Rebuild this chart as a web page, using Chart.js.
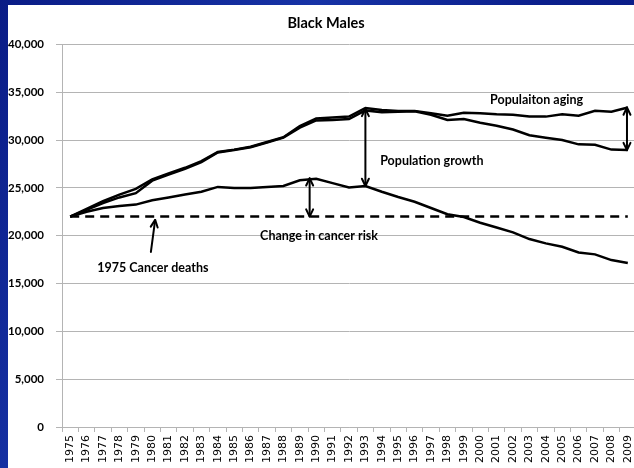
<!DOCTYPE html>
<html>
<head>
<meta charset="utf-8">
<script src="https://cdn.jsdelivr.net/npm/chart.js@4/dist/chart.umd.min.js"></script>
<style>
  html, body { margin: 0; padding: 0; }
  body {
    width: 634px; height: 468px; overflow: hidden; position: relative;
    background: linear-gradient(120deg, #0a1c86 0%, #1733a6 35%, #0b1f8c 60%, #0a1a80 100%);
  }
  #wrap {
    position: absolute; left: 8px; top: 5px;
    width: 626px; height: 463px; background: #fff; overflow: hidden;
  }
</style>
</head>
<body>
<div id="wrap"><canvas id="chart" width="636" height="463"></canvas></div>
<script>
const years = ['1975', '1976', '1977', '1978', '1979', '1980', '1981', '1982', '1983', '1984',
    '1985', '1986', '1987', '1988', '1989', '1990', '1991', '1992', '1993', '1994',
    '1995', '1996', '1997', '1998', '1999', '2000', '2001', '2002', '2003', '2004',
    '2005', '2006', '2007', '2008', '2009'];

// expected deaths with population growth and aging
const agingDeaths = [22000, 22800, 23600, 24300, 24900, 25900, 26500, 27100, 27800, 28750,
    29000, 29300, 29800, 30300, 31450, 32250, 32350, 32450, 33350, 33150,
    33050, 33050, 32800, 32550, 32850, 32800, 32700, 32650, 32450, 32450,
    32700, 32550, 33050, 32950, 33400];

// expected deaths with population growth only
const growthDeaths = [22000, 22700, 23400, 24000, 24450, 25750, 26400, 27000, 27700, 28700,
    28950, 29250, 29750, 30250, 31300, 32050, 32100, 32200, 33100, 32900,
    32950, 33000, 32650, 32100, 32200, 31800, 31500, 31100, 30500, 30250,
    30000, 29550, 29500, 29000, 28950];

// observed cancer deaths
const actualDeaths = [22000, 22500, 22900, 23100, 23250, 23700, 24000, 24300, 24600, 25100,
    25000, 25000, 25100, 25200, 25800, 25950, 25500, 25050, 25200, 24600,
    24050, 23550, 22900, 22250, 21950, 21350, 20850, 20350, 19650, 19200,
    18850, 18250, 18050, 17450, 17150];

const baseline1975 = years.map(() => 22000);

const yTicks = [0, 5000, 10000, 15000, 20000, 25000, 30000, 35000, 40000];

function drawArrow(ctx, x1, y1, x2, y2, both) {
    const head = 8;
    const ang = Math.atan2(y2 - y1, x2 - x1);
    ctx.beginPath();
    ctx.moveTo(x1, y1);
    ctx.lineTo(x2, y2);
    ctx.stroke();
    const tip = (x, y, a) => {
        ctx.beginPath();
        ctx.moveTo(x - head * Math.cos(a - 0.45), y - head * Math.sin(a - 0.45));
        ctx.lineTo(x, y);
        ctx.lineTo(x - head * Math.cos(a + 0.45), y - head * Math.sin(a + 0.45));
        ctx.stroke();
    };
    tip(x2, y2, ang);
    if (both) tip(x1, y1, ang + Math.PI);
}

const notes = {
    id: 'notes',
    afterDatasetsDraw(chart) {
        const ctx = chart.ctx;
        const x = chart.scales.x, y = chart.scales.y;
        ctx.save();
        ctx.strokeStyle = '#000';
        ctx.lineWidth = 2;
        ctx.lineCap = 'round';
        ctx.lineJoin = 'round';
        drawArrow(ctx, x.getPixelForValue(14.6), y.getPixelForValue(22000),
            x.getPixelForValue(14.6), y.getPixelForValue(26000), true);
        drawArrow(ctx, x.getPixelForValue(18), y.getPixelForValue(25200),
            x.getPixelForValue(18), y.getPixelForValue(33250), true);
        drawArrow(ctx, x.getPixelForValue(33.95), y.getPixelForValue(28950),
            x.getPixelForValue(33.95), y.getPixelForValue(33400), true);
        drawArrow(ctx, x.getPixelForValue(4.92), y.getPixelForValue(18300),
            x.getPixelForValue(5.18), y.getPixelForValue(21650), false);

        ctx.fillStyle = '#000';
        ctx.font = 'bold 12.5px Lato';
        ctx.textAlign = 'left';
        ctx.textBaseline = 'middle';
        ctx.fillText('Populaiton aging', x.getPixelForValue(25.6), y.getPixelForValue(34150));
        ctx.fillText('Population growth', x.getPixelForValue(18.9), y.getPixelForValue(27780));
        ctx.fillText('Change in cancer risk', x.getPixelForValue(11.58), y.getPixelForValue(19950));
        ctx.fillText('1975 Cancer deaths', x.getPixelForValue(1.65), y.getPixelForValue(16600));
        ctx.restore();
    }
};

function line(data, dash) {
    return {
        data: data,
        borderColor: '#000',
        borderWidth: 2.5,
        borderDash: dash || [],
        pointRadius: 0,
        tension: 0,
        fill: false
    };
}

new Chart(document.getElementById('chart').getContext('2d'), {
    type: 'line',
    data: {
        labels: years,
        datasets: [
            line(agingDeaths),
            line(growthDeaths),
            line(actualDeaths),
            line(baseline1975, [9, 6])
        ]
    },
    options: {
        responsive: false,
        animation: false,
        layout: { padding: { left: 0, right: 0, top: 0, bottom: 0 } },
        plugins: {
            legend: { display: false },
            tooltip: { enabled: false },
            title: {
                display: true,
                text: 'Black Males',
                color: '#000',
                font: { family: 'Lato', size: 14.5, weight: 'bold' },
                padding: { top: 10, bottom: 12 }
            }
        },
        scales: {
            x: {
                offset: true,
                grid: { display: true, drawOnChartArea: false, offset: true, tickLength: 5, color: '#b4b4b4' },
                border: { color: '#b4b4b4' },
                ticks: {
                    autoSkip: false,
                    maxRotation: 90,
                    minRotation: 90,
                    padding: 3,
                    color: '#000',
                    font: { family: 'DejaVu Sans', size: 11 }
                },
                afterFit: function (scale) { scale.height = 41; }
            },
            y: {
                min: 0,
                max: 40000,
                afterBuildTicks: function (scale) {
                    scale.ticks = yTicks.map(v => ({ value: v }));
                },
                grid: { color: '#b4b4b4', tickLength: 6 },
                border: { color: '#b4b4b4' },
                ticks: {
                    padding: 12,
                    color: '#000',
                    font: { family: 'Lato', size: 11.5, weight: 'bold' },
                    callback: function (value) { return value.toLocaleString('en-US'); }
                },
                afterFit: function (scale) { scale.width = 54; }
            }
        }
    },
    plugins: [notes]
});
</script>
</body>
</html>
